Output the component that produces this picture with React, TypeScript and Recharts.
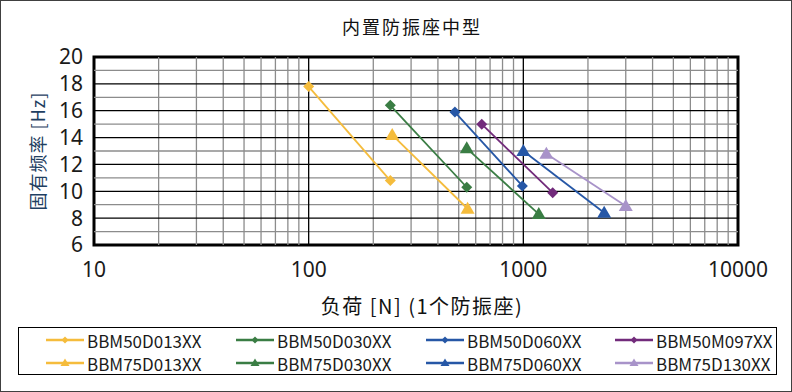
import React from "react";
import {
  ScatterChart,
  Scatter,
  XAxis,
  YAxis,
  ReferenceLine,
  ReferenceArea,
} from "recharts";

// load [N] vs natural frequency [Hz], two points per mount
const bbm50d013 = [{ load: 100, freq: 17.8 }, { load: 240, freq: 10.8 }];
const bbm50d030 = [{ load: 240, freq: 16.4 }, { load: 545, freq: 10.3 }];
const bbm50d060 = [{ load: 480, freq: 15.9 }, { load: 990, freq: 10.4 }];
const bbm50m097 = [{ load: 640, freq: 15.0 }, { load: 1370, freq: 9.9 }];
const bbm75d013 = [{ load: 245, freq: 14.2 }, { load: 550, freq: 8.7 }];
const bbm75d030 = [{ load: 545, freq: 13.2 }, { load: 1180, freq: 8.3 }];
const bbm75d060 = [{ load: 1000, freq: 13.0 }, { load: 2380, freq: 8.4 }];
const bbm75d130 = [{ load: 1280, freq: 12.8 }, { load: 3000, freq: 8.9 }];

const xTicks = [10, 100, 1000, 10000];
const yTicks = [6, 8, 10, 12, 14, 16, 18, 20];

const series = [
  { name: "BBM50D013XX", data: bbm50d013, color: "#F5BC3C", shape: "diamond" },
  { name: "BBM50D030XX", data: bbm50d030, color: "#3A7D44", shape: "diamond" },
  { name: "BBM50D060XX", data: bbm50d060, color: "#2657A6", shape: "diamond" },
  { name: "BBM50M097XX", data: bbm50m097, color: "#722B7B", shape: "diamond" },
  { name: "BBM75D013XX", data: bbm75d013, color: "#F5BC3C", shape: "triangle" },
  { name: "BBM75D030XX", data: bbm75d030, color: "#3A7D44", shape: "triangle" },
  { name: "BBM75D060XX", data: bbm75d060, color: "#2657A6", shape: "triangle" },
  { name: "BBM75D130XX", data: bbm75d130, color: "#A893C9", shape: "triangle" },
];

const FONT = '"Noto Sans CJK SC", "Noto Sans", sans-serif';
const NUM_FONT = '"Noto Sans", sans-serif';

// minor gridlines at 2..9 of each decade
const minorX: number[] = [];
[10, 100, 1000].forEach((d) => {
  for (let i = 2; i <= 9; i++) minorX.push(d * i);
});
const minorY = [7, 9, 11, 13, 15, 17, 19];

function Marker(props: any) {
  const { cx, cy, fill, kind } = props;
  if (cx == null || cy == null) return null;
  if (kind === "triangle") {
    const p = `${cx},${cy - 7} ${cx + 7},${cy + 5} ${cx - 7},${cy + 5}`;
    return <polygon points={p} fill={fill} />;
  }
  const r = 5.5;
  const p = `${cx},${cy - r} ${cx + r},${cy} ${cx},${cy + r} ${cx - r},${cy}`;
  return <polygon points={p} fill={fill} />;
}

function LegendIcon({ color, shape }: { color: string; shape: string }) {
  return (
    <svg width={38} height={12} style={{ display: "block" }}>
      <line x1={0} y1={6} x2={38} y2={6} stroke={color} strokeWidth={2.5} />
      {shape === "triangle" ? (
        <polygon points="19,1.5 23.5,9 14.5,9" fill={color} />
      ) : (
        <polygon points="19,2.5 22.5,6 19,9.5 15.5,6" fill={color} />
      )}
    </svg>
  );
}

export default function App() {
  const legendCols = [45, 235, 425, 614];
  return (
    <div
      style={{
        position: "absolute",
        left: 0,
        top: 0,
        width: 792,
        height: 392,
        background: "#fff",
        fontFamily: FONT,
        boxSizing: "border-box",
        border: "1.5px solid #404040",
        overflow: "hidden",
      }}
    >
      <div style={{ position: "absolute", left: -1.5, top: -1.5 }}>
        <ScatterChart
          width={792}
          height={392}
          margin={{ top: 57, right: 54, bottom: 117, left: 34 }}
        >
          <XAxis
            type="number"
            dataKey="load"
            scale="log"
            domain={[10, 10000]}
            ticks={xTicks}
            interval={0}
            allowDataOverflow
            axisLine={false}
            tickLine={false}
            tickMargin={11}
            height={30}
            tick={{ fontSize: 21, fill: "#1a1a1a", fontFamily: NUM_FONT }}
          />
          <YAxis
            type="number"
            dataKey="freq"
            domain={[6, 20]}
            ticks={yTicks}
            interval={0}
            allowDataOverflow
            axisLine={false}
            tickLine={false}
            tickMargin={5}
            width={60}
            tick={{ fontSize: 21, fill: "#1a1a1a", fontFamily: NUM_FONT }}
          />
          {minorX.map((v) => (
            <ReferenceLine key={"mx" + v} x={v} stroke="#8c8c8c" strokeWidth={1.3} />
          ))}
          {minorY.map((v) => (
            <ReferenceLine key={"my" + v} y={v} stroke="#8c8c8c" strokeWidth={1.3} />
          ))}
          {yTicks.slice(1, -1).map((v) => (
            <ReferenceLine key={"Y" + v} y={v} stroke="#000" strokeWidth={1.3} />
          ))}
          {[100, 1000].map((v) => (
            <ReferenceLine key={"X" + v} x={v} stroke="#000" strokeWidth={1.3} />
          ))}
          <ReferenceArea
            x1={10}
            x2={10000}
            y1={6}
            y2={20}
            fill="none"
            fillOpacity={0}
            stroke="#000"
            strokeWidth={3}
          />
          {series.map((s) => (
            <Scatter
              key={s.name}
              name={s.name}
              data={s.data}
              fill={s.color}
              line={{ stroke: s.color, strokeWidth: 1.8 }}
              shape={(p: any) => <Marker {...p} fill={s.color} kind={s.shape} />}
              isAnimationActive={false}
            />
          ))}
        </ScatterChart>
      </div>

      <div
        style={{
          position: "absolute",
          left: 0,
          width: 822,
          top: 12,
          textAlign: "center",
          fontSize: 18,
          letterSpacing: 2,
          color: "#111",
        }}
      >
        内置防振座中型
      </div>

      <div
        style={{
          position: "absolute",
          left: 36,
          top: 150,
          transform: "translate(-50%, -50%) rotate(-90deg)",
          whiteSpace: "nowrap",
          fontSize: 18,
          letterSpacing: 1,
          color: "#1F3F62",
        }}
      >
        固有频率 [Hz]
      </div>

      <div
        style={{
          position: "absolute",
          left: 0,
          width: 842,
          top: 290,
          textAlign: "center",
          fontSize: 20,
          letterSpacing: 1.5,
          color: "#111",
          whiteSpace: "nowrap",
        }}
      >
        负荷 [N] (1个防振座)
      </div>

      <div
        style={{
          position: "absolute",
          left: 17,
          top: 326,
          width: 759,
          height: 48,
          border: "1.5px solid #000",
          boxSizing: "border-box",
        }}
      />
      {series.map((s, i) => {
        const col = i % 4;
        const row = Math.floor(i / 4);
        return (
          <div
            key={s.name}
            style={{
              position: "absolute",
              left: legendCols[col],
              top: row === 0 ? 328 : 351,
              height: 22,
              display: "flex",
              alignItems: "center",
              fontSize: 17,
              color: "#1a1a1a",
              whiteSpace: "nowrap",
            }}
          >
            <LegendIcon color={s.color} shape={s.shape} />
            <span style={{ marginLeft: 3 }}>{s.name}</span>
          </div>
        );
      })}
    </div>
  );
}
